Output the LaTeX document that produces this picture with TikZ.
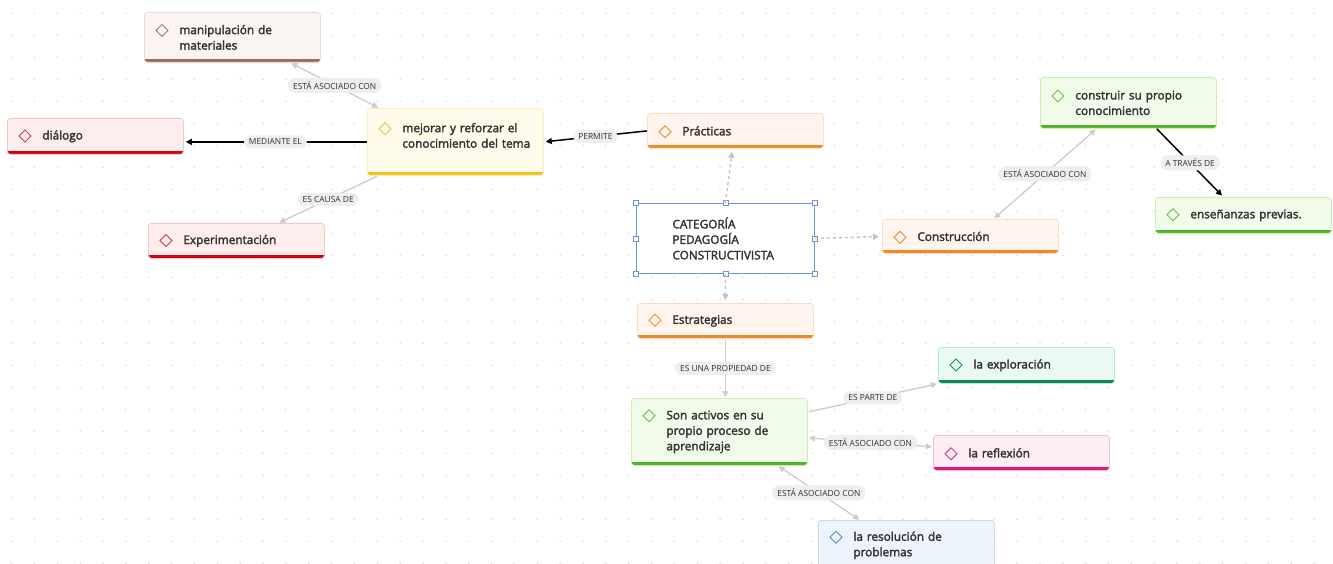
\documentclass[tikz,border=0pt]{standalone}
\usepackage{fontspec}
\setmainfont{Open Sans}
\newfontfamily\topicfont{Open Sans}[FakeBold=2.4]
\usetikzlibrary{arrows.meta}

\definecolor{txt}{HTML}{333333}
\definecolor{fillbrn}{HTML}{FAF5F2}\definecolor{linebrn}{HTML}{EADCD5}\definecolor{barbrn}{HTML}{A06A5A}\definecolor{diabrn}{HTML}{A8776A}
\definecolor{fillred}{HTML}{FDEDED}\definecolor{linered}{HTML}{F5C6C6}\definecolor{barred}{HTML}{D40012}\definecolor{diared}{HTML}{C8404A}
\definecolor{fillylw}{HTML}{FFFBEA}\definecolor{lineylw}{HTML}{FBEFC0}\definecolor{barylw}{HTML}{F5C01A}\definecolor{diaylw}{HTML}{E8BE4A}
\definecolor{fillorg}{HTML}{FFF5EE}\definecolor{lineorg}{HTML}{FBDCC4}\definecolor{barorg}{HTML}{F08A24}\definecolor{diaorg}{HTML}{E8913F}
\definecolor{fillgrn}{HTML}{F1FBE9}\definecolor{linegrn}{HTML}{CDEFB5}\definecolor{bargrn}{HTML}{52B02A}\definecolor{diagrn}{HTML}{6DBE4B}
\definecolor{filltel}{HTML}{EAFAF3}\definecolor{linetel}{HTML}{B5EBD4}\definecolor{bartel}{HTML}{138655}\definecolor{diatel}{HTML}{1D8F5E}
\definecolor{fillpnk}{HTML}{FDEDF4}\definecolor{linepnk}{HTML}{F6BDD7}\definecolor{barpnk}{HTML}{E0167C}\definecolor{diapnk}{HTML}{D43C8C}
\definecolor{fillblu}{HTML}{EEF4FC}\definecolor{lineblu}{HTML}{C8DAF2}\definecolor{barblu}{HTML}{4A88D8}\definecolor{diablu}{HTML}{4A8CD6}
\definecolor{catline}{HTML}{6F93D8}
\definecolor{linkgray}{HTML}{CCCCCC}
\definecolor{dotgray}{HTML}{C2C2C2}
\definecolor{lblfill}{HTML}{EEEEEE}
\definecolor{lbltxt}{HTML}{333333}
\definecolor{griddot}{HTML}{DADADA}

\begin{document}
\begin{tikzpicture}[x=1pt,y=-1pt,>={Triangle[length=6pt,width=6pt]}]
    \tikzstyle{topic}=[rectangle, rounded corners=3pt, draw=line#1, line width=0.8pt, fill=fill#1,
        anchor=north west, minimum width=176pt, text width=166pt, inner xsep=5pt, inner ysep=2pt,
        align=left, text=txt, font={\topicfont\fontsize{11.8}{15.5}\selectfont},
        execute at begin node={\leftskip=30pt},
        path picture={\fill[bar#1, sharp corners] ([yshift=3.8pt]path picture bounding box.south west) rectangle (path picture bounding box.south east);}]
    \tikzstyle{catbox}=[rectangle, draw=catline, line width=0.9pt, fill=white, anchor=north west,
        minimum width=178pt, minimum height=70pt, text width=168pt, inner xsep=5pt,
        align=left, text=txt, font={\topicfont\fontsize{11.8}{15.5}\selectfont},
        execute at begin node={\leftskip=31pt}]
    \tikzstyle{handle}=[draw=catline, fill=white, line width=0.7pt]
    \tikzstyle{lbl}=[fill=lblfill, rounded corners=7pt, inner xsep=5pt, inner ysep=3.5pt,
        text=lbltxt, font={\fontsize{8.4}{9}\selectfont}]
    \tikzstyle{link}=[draw=linkgray, line width=1.3pt, ->, shorten >=1pt, shorten <=1pt]
    \tikzstyle{strong}=[draw=black, line width=1.5pt, ->, shorten >=2pt]
    \tikzstyle{dotlink}=[draw=dotgray, line width=1.4pt, dash pattern=on 3pt off 3pt, ->, shorten >=3pt]

    \useasboundingbox (0,0) rectangle (1333,564);
    \fill[white] (0,0) rectangle (1333,564);
    \foreach \i in {0,...,58}
        \foreach \j in {0,...,25}
            \fill[griddot] ({11.7+22.85*\i},{13.3+22*\j}) circle (0.9pt);

    \node[topic=brn, minimum height=50pt] (manip) at (144,12) {manipulación de\\materiales};
    \node[topic=red, minimum height=36pt] (dialogo) at (7,118) {diálogo};
    \node[topic=ylw, minimum height=67pt] (mejorar) at (367,108) {mejorar y reforzar el\\conocimiento del tema\rule[-13pt]{0pt}{13pt}};
    \node[topic=red, minimum height=35pt] (exper) at (148,223) {Experimentación};
    \node[topic=org, minimum height=35pt] (practicas) at (647,113) {Prácticas};
    \node[catbox] (cat) at (636,203) {CATEGORÍA\\PEDAGOGÍA\\CONSTRUCTIVISTA};
    \node[topic=org, minimum height=34pt] (construccion) at (882,219) {Construcción};
    \node[topic=grn, minimum height=51pt] (construir) at (1040,77) {construir su propio\\conocimiento};
    \node[topic=grn, minimum height=36pt] (ensenanzas) at (1155,197) {enseñanzas previas.};
    \node[topic=org, minimum height=35pt] (estrategias) at (637,303) {Estrategias};
    \node[topic=grn, minimum height=67pt] (activos) at (631,398) {Son activos en su\\propio proceso de\\aprendizaje};
    \node[topic=tel, minimum height=36pt] (exploracion) at (938,347) {la exploración};
    \node[topic=pnk, minimum height=35pt] (reflexion) at (933,435) {la reflexión};
    \node[topic=blu, minimum height=50pt] (resolucion) at (818,520) {la resolución de\\problemas};

    \foreach \n/\c in {manip/brn, dialogo/red, mejorar/ylw, exper/red, practicas/org, construccion/org,
        construir/grn, ensenanzas/grn, estrategias/org, activos/grn, exploracion/tel, reflexion/pnk, resolucion/blu}
        \draw[dia\c, line width=0.9pt] ([xshift=18pt,yshift=3.5pt]\n.base west) +(-6,0) -- +(0,-6) -- +(6,0) -- +(0,6) -- cycle;

    \foreach \a in {north west,north,north east,east,south east,south,south west,west}
        \draw[handle] ([xshift=-2.5pt,yshift=-2.5pt]cat.\a) rectangle ([xshift=2.5pt,yshift=2.5pt]cat.\a);

    \draw[link, <->] ([xshift=58pt]manip.south) -- node[lbl] {ESTÁ ASOCIADO CON} ([xshift=12pt]mejorar.north west);
    \draw[strong] (mejorar.west) -- node[lbl] {MEDIANTE EL} (dialogo.east |- mejorar.west);
    \draw[link] ([xshift=11pt]mejorar.south west) -- node[lbl] {ES CAUSA DE} ([xshift=42pt]exper.north);
    \draw[strong] (practicas.west) -- node[lbl] {PERMITE} (mejorar.east);

    \draw[dotlink] (cat.north) -- ([xshift=-3pt]practicas.south);
    \draw[dotlink] (cat.east) -- (construccion.west);
    \draw[dotlink] (cat.south) -- (estrategias.north);

    \draw[link, <->] ([xshift=23pt]construccion.north) -- node[lbl] {ESTÁ ASOCIADO CON} ([xshift=-32pt]construir.south);
    \draw[strong] ([xshift=-60pt]construir.south east) -- node[lbl] {A TRAVÉS DE} ([xshift=-20pt]ensenanzas.north);

    \draw[link] (estrategias.south) -- node[lbl] {ES UNA PROPIEDAD DE} (estrategias.south |- activos.north);
    \draw[link] ([yshift=-14pt]activos.north east) -- node[lbl] {ES PARTE DE} (exploracion.south west);
    \draw[link, <->] ([yshift=-6pt]activos.east) -- node[lbl] {ESTÁ ASOCIADO CON} ([yshift=6pt]reflexion.west);
    \draw[link, <->] ([xshift=-30pt]activos.south east) -- node[lbl] {ESTÁ ASOCIADO CON} ([xshift=42pt]resolucion.north west);
\end{tikzpicture}
\end{document}
